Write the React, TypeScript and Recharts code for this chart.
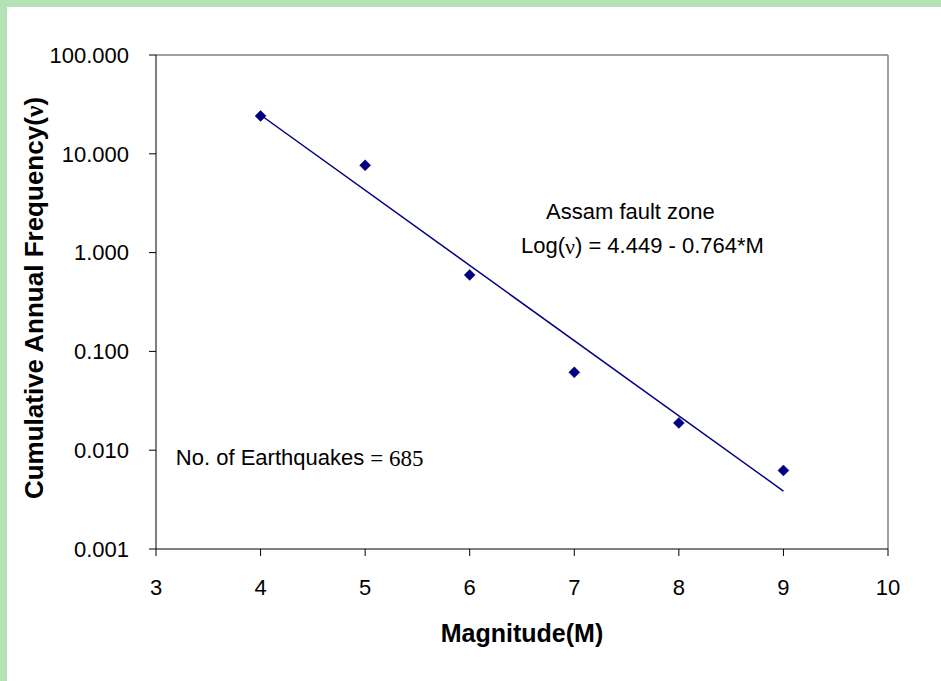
import React from 'react';
import { ScatterChart, Scatter, XAxis, YAxis, ReferenceLine, ReferenceDot } from 'recharts';

const magnitudes = [4, 5, 6, 7, 8, 9];
const frequencies = [24.2, 7.64, 0.595, 0.0614, 0.0189, 0.00624];
const trendMagnitudes = [4, 9];
const trendFrequencies = [24.7, 0.00386];
const xTicks = [3, 4, 5, 6, 7, 8, 9, 10];
const yTicks = [0.001, 0.01, 0.1, 1, 10, 100];

const points = magnitudes.map((m, i) => ({ m, v: frequencies[i] }));
const trend = trendMagnitudes.map((m, i) => ({ m, v: trendFrequencies[i] }));

const FONT = 'Arial, "Liberation Sans", sans-serif';
const SERIF = '"Times New Roman", "Liberation Serif", serif';
const NAVY = '#000080';

const Diamond = (props: any) => {
  const { cx, cy } = props;
  if (cx == null || cy == null) return null;
  const r = 5.5;
  return (
    <polygon
      points={`${cx},${cy - r} ${cx + r},${cy} ${cx},${cy + r} ${cx - r},${cy}`}
      fill={NAVY}
      stroke={NAVY}
      strokeWidth={0.5}
    />
  );
};

const NoShape = () => null;

const YTitle = () => {
  const x = 34;
  const y = 298;
  return (
    <text
      x={x}
      y={y}
      transform={`rotate(-90 ${x} ${y})`}
      textAnchor="middle"
      dominantBaseline="central"
      fontFamily={FONT}
      fontWeight="bold"
      fontSize={26}
      fill="#000"
    >
      Cumulative Annual Frequency(<tspan fontFamily={SERIF}>ν</tspan>)
    </text>
  );
};

const XTitle = () => (
  <text
    x={522}
    y={633}
    textAnchor="middle"
    dominantBaseline="central"
    fontFamily={FONT}
    fontWeight="bold"
    fontSize={25}
    fill="#000"
  >
    Magnitude(M)
  </text>
);

const AnnText = (props: any) => {
  const vb = props.viewBox || {};
  const x = (vb.x ?? 0) + (vb.width ?? 0) / 2;
  const y = (vb.y ?? 0) + (vb.height ?? 0) / 2;
  return (
    <text x={x} y={y} textAnchor="start" dominantBaseline="central" fontFamily={FONT} fontSize={props.size || 22} fill="#000">
      {props.children}
    </text>
  );
};

export default function App() {
  return (
    <div style={{ position: 'absolute', left: 0, top: 0, width: 941, height: 681, background: '#b3e2b5' }}>
      <div style={{ position: 'absolute', left: 7, top: 7, width: 934, height: 674, background: '#ffffff' }} />
      <div style={{ position: 'absolute', left: 0, top: 0 }}>
        <ScatterChart width={941} height={681} margin={{ top: 55, right: 53, bottom: 32, left: 56 }}>
          <XAxis
            type="number"
            dataKey="m"
            domain={[3, 10]}
            ticks={xTicks}
            allowDataOverflow
            height={100}
            stroke="#000"
            tickSize={7}
            tickMargin={23}
            tick={{ fill: '#000', fontSize: 22, fontFamily: FONT }}
            label={<XTitle />}
          />
          <YAxis
            type="number"
            dataKey="v"
            scale="log"
            domain={[0.001, 100]}
            ticks={yTicks}
            allowDataOverflow
            width={100}
            stroke="#000"
            tickSize={7}
            tickMargin={20}
            tickFormatter={(v: number) => v.toFixed(3)}
            tick={{ fill: '#000', fontSize: 22, fontFamily: FONT }}
            label={<YTitle />}
          />
          <ReferenceLine y={100} stroke="#808080" strokeWidth={1.5} />
          <ReferenceLine x={10} stroke="#808080" strokeWidth={1.5} />
          <Scatter
            data={trend}
            line={{ stroke: NAVY, strokeWidth: 1.5 }}
            shape={<NoShape />}
            isAnimationActive={false}
          />
          <Scatter data={points} shape={<Diamond />} isAnimationActive={false} />
          <ReferenceDot
            x={6.73}
            y={2.6}
            r={0}
            fill="none"
            stroke="none"
            label={<AnnText size={22}>Assam fault zone</AnnText>}
          />
          <ReferenceDot
            x={6.49}
            y={1.17}
            r={0}
            fill="none"
            stroke="none"
            label={
              <AnnText size={22}>
                Log(<tspan fontFamily={SERIF}>ν</tspan>) = 4.449 - 0.764*M
              </AnnText>
            }
          />
          <ReferenceDot
            x={3.19}
            y={0.00843}
            r={0}
            fill="none"
            stroke="none"
            label={
              <AnnText size={22}>
                No. of Earthquakes{' '}
                <tspan fontFamily={SERIF} fontSize={23}>= 685</tspan>
              </AnnText>
            }
          />
        </ScatterChart>
      </div>
    </div>
  );
}
